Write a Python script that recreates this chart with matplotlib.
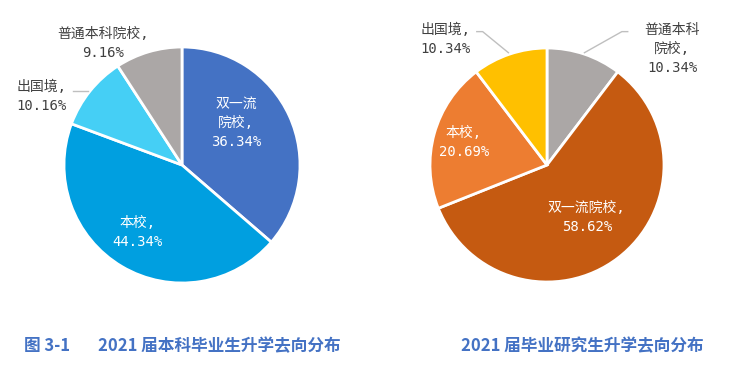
"""Two pie charts: 2021 graduates' further-study destinations."""
import matplotlib
matplotlib.use("Agg")
import matplotlib.pyplot as plt

plt.rcParams["font.family"] = ["Noto Sans CJK SC", "DejaVu Sans"]
LABEL_FONT = ["DejaVu Sans Mono", "Noto Sans CJK SC"]

# Undergraduates (clockwise from 12 o'clock)
ug_labels = ["双一流\n院校,\n36.34%", "本校,\n44.34%", "出国境,\n10.16%", "普通本科院校,\n9.16%"]
ug_values = [36.34, 44.34, 10.16, 9.16]
ug_colors = ["#4472C4", "#009FE0", "#45CFF5", "#ABA7A6"]

# Postgraduates (clockwise from 12 o'clock)
pg_labels = ["普通本科\n院校,\n10.34%", "双一流院校,\n58.62%", "本校,\n20.69%", "出国境,\n10.34%"]
pg_values = [10.34, 58.62, 20.69, 10.34]
pg_colors = ["#ABA7A6", "#C55A11", "#ED7D31", "#FFC000"]

fig_no = "图 3-1"
captions = ["2021 届本科毕业生升学去向分布", "2021 届毕业研究生升学去向分布"]

# label placement (pie radius = 1) and text colour
ug_pos = [(0.46, 0.36), (-0.38, -0.57), (-1.19, 0.58), (-0.67, 1.03)]
ug_txt = ["white", "white", "#404040", "#404040"]
pg_pos = [(1.07, 0.99), (0.34, -0.45), (-0.71, 0.19), (-0.87, 1.07)]
pg_txt = ["#404040", "white", "white", "#404040"]

W, H = 740, 367
fig = plt.figure(figsize=(W / 100, H / 100), dpi=100)
fig.patch.set_facecolor("white")


def draw_pie(cx, cy, r, values, colors, labels, pos, txt):
    ax = fig.add_axes([(cx - r) / W, (H - cy - r) / H, 2 * r / W, 2 * r / H])
    ax.pie(values, colors=colors, startangle=90, counterclock=False, radius=1,
           wedgeprops=dict(edgecolor="white", linewidth=2))
    ax.set_xlim(-1, 1)
    ax.set_ylim(-1, 1)
    ax.set_aspect("equal")
    ax.axis("off")
    for lab, (x, y), c in zip(labels, pos, txt):
        ax.text(x, y, lab, ha="center", va="center", color=c, fontsize=10,
                family=LABEL_FONT, linespacing=1.45, clip_on=False)
    return ax


ax1 = draw_pie(182, 165, 118, ug_values, ug_colors, ug_labels, ug_pos, ug_txt)
ax1.plot([-0.92, -0.80], [0.63, 0.63], color="#BFBFBF", lw=1, clip_on=False)

ax2 = draw_pie(547, 165, 117, pg_values, pg_colors, pg_labels, pg_pos, pg_txt)
ax2.plot([0.32, 0.64, 0.69], [0.96, 1.14, 1.14], color="#BFBFBF", lw=1, clip_on=False)
ax2.plot([-0.60, -0.55, -0.33], [1.14, 1.14, 0.96], color="#BFBFBF", lw=1, clip_on=False)

cap_kw = dict(color="#4472C4", fontsize=12, fontweight="bold", va="center", ha="left")
fig.text(24 / W, 1 - 346 / H, fig_no, **cap_kw)
fig.text(98 / W, 1 - 346 / H, captions[0], **cap_kw)
fig.text(461 / W, 1 - 346 / H, captions[1], **cap_kw)

fig.savefig("out.png", dpi=100)
